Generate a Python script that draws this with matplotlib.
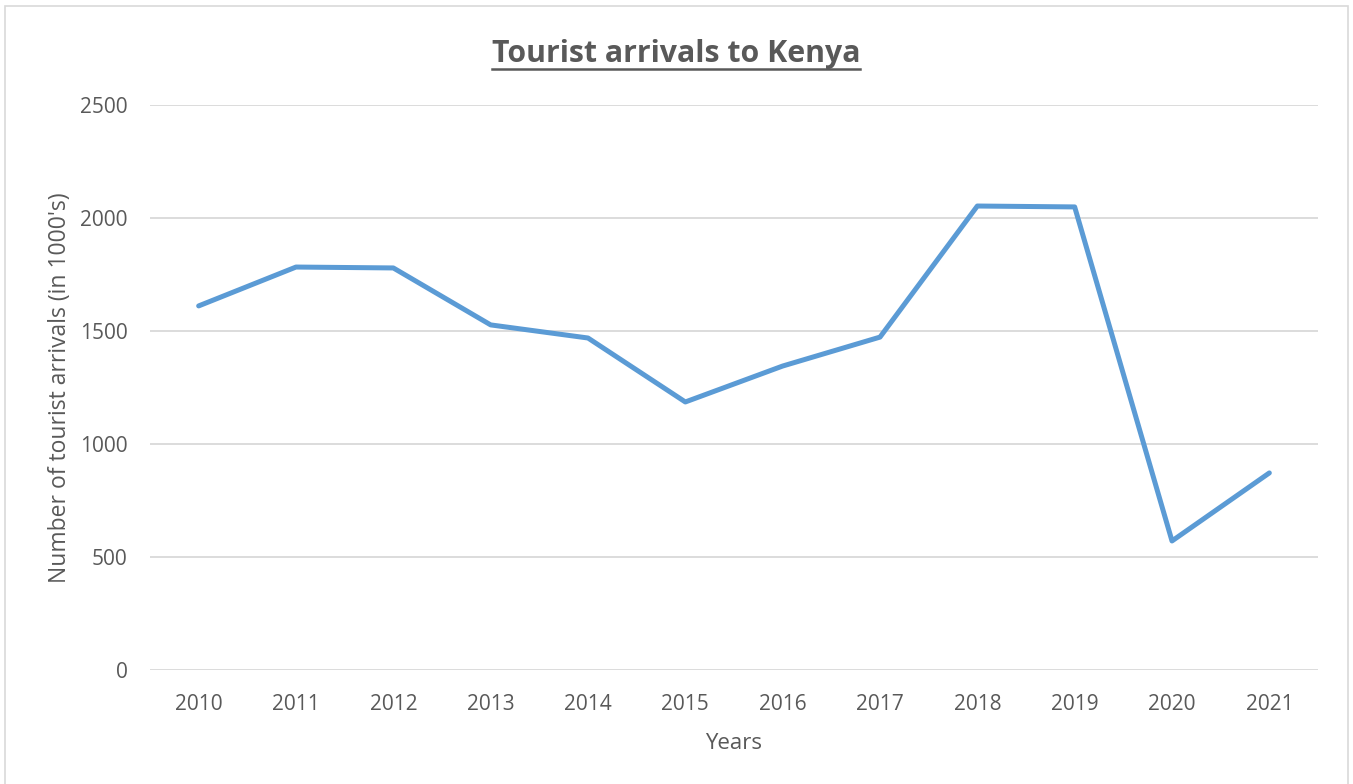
import matplotlib
matplotlib.use('Agg')
from matplotlib import pyplot as plt
from matplotlib.patches import Rectangle
import numpy as np

years = ['2010', '2011', '2012', '2013', '2014', '2015',
         '2016', '2017', '2018', '2019', '2020', '2021']
arrivals = [1611, 1783, 1779, 1527, 1469, 1186, 1345, 1473, 2053, 2049, 571, 872]

txt = '#595959'
plt.rcParams['font.family'] = ['Open Sans', 'DejaVu Sans']

fig = plt.figure(figsize=(13.53, 7.84), dpi=100)
ax = fig.add_axes([150/1353, 1-670/784, (1318-150)/1353, (670-105)/784])

x = np.arange(len(years))
ax.plot(x, arrivals, color='#5B9BD5', lw=3.6, solid_joinstyle='round', solid_capstyle='round', zorder=3)

ax.set_xlim(-0.5, len(years)-0.5)
ax.set_ylim(0, 2500)
ax.set_yticks(np.arange(0, 2501, 500))
ax.set_xticks(x)
ax.set_xticklabels(years)
ax.yaxis.grid(True, color='#D9D9D9', lw=1.3)
ax.set_axisbelow(True)
for s in ax.spines.values():
    s.set_visible(False)
ax.tick_params(length=0, labelsize=15, colors=txt)
ax.tick_params(axis='x', pad=17)
ax.tick_params(axis='y', pad=16)

ax.set_xlabel('Years', fontsize=16, color=txt, labelpad=13)
ax.set_ylabel("Number of tourist arrivals (in 1000's)", fontsize=16.5, color=txt, labelpad=6)

t = fig.text(0.4995, 1-54/784, 'Tourist arrivals to Kenya', ha='center', va='center',
             fontsize=21.8, fontweight='bold', color=txt)
# underline
fig.canvas.draw()
bb = t.get_window_extent()
fig.add_artist(plt.Line2D([bb.x0/1353, bb.x1/1353], [(bb.y0)/784, (bb.y0)/784],
                          color=txt, lw=1.8, transform=fig.transFigure))

fig.patches.append(Rectangle((5/1353, -0.02), 1343/1353, 1.02-6/784, transform=fig.transFigure,
                             fill=False, edgecolor='#D9D9D9', lw=1.2))

fig.savefig('out.png', dpi=100)
